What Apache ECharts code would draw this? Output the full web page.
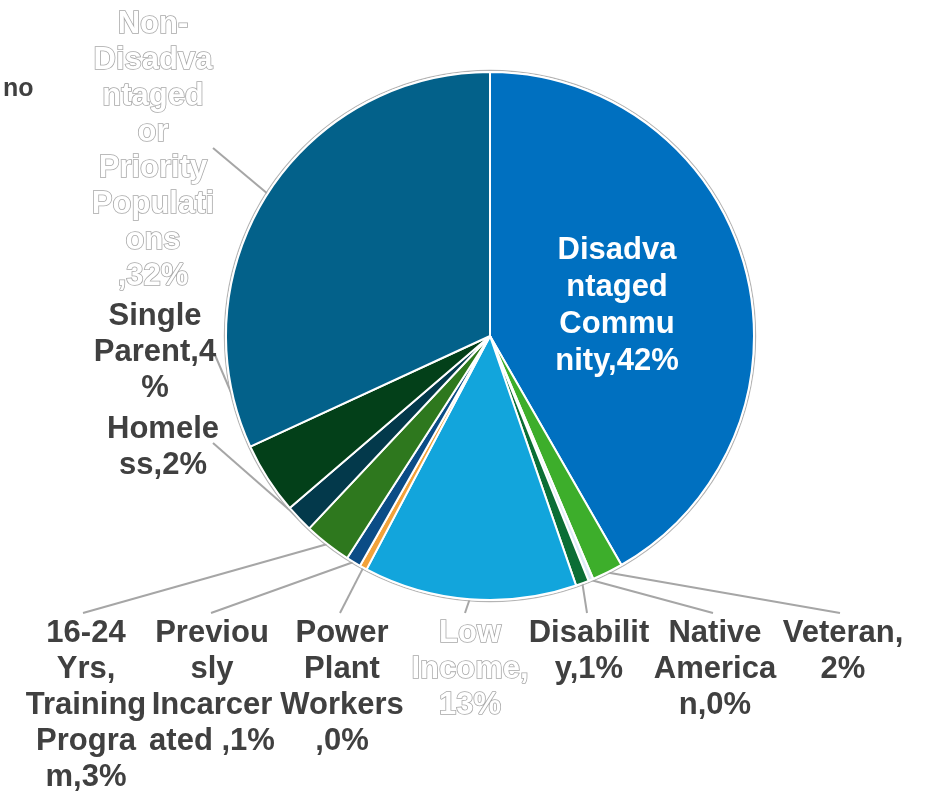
<!DOCTYPE html>
<html>
<head>
<meta charset="utf-8">
<script src="https://cdn.jsdelivr.net/npm/echarts@6/dist/echarts.min.js"></script>
<style>
  html, body { margin: 0; padding: 0; background: #ffffff; }
  #chart { width: 927px; height: 796px; }
</style>
</head>
<body>
<div id="chart"></div>
<script>
// Population groups, listed clockwise from 12 o'clock
const categories = [
  'Disadvantaged Community',
  'Veteran',
  'Native American',
  'Disability',
  'Low Income',
  'Power Plant Workers',
  'Previously Incarcerated ',
  '16-24 Yrs, Training Program',
  'Homeless',
  'Single Parent',
  'Non-Disadvantaged or Priority Populations '
];

// Share of participants (%)
const shares = [41.6, 1.9, 0.3, 0.8, 13.0, 0.45, 0.9, 2.9, 1.7, 4.4, 31.8];

const sliceColors = [
  '#0070C0', '#3DAE2B', '#DDEBF7', '#0B6E35', '#12A5DC', '#F2A23A',
  '#0B4C86', '#2E781E', '#03394B', '#034019', '#03618A'
];

// Where each label sits and where its leader line ends
const labelSpots = [
  { x: 617, y: 306, va: 'middle', end: null },
  { x: 843, y: 615, va: 'top', end: [840, 613] },
  { x: 715, y: 615, va: 'top', end: [713, 613] },
  { x: 589, y: 615, va: 'top', end: [587, 613] },
  { x: 470, y: 615, va: 'top', end: [465, 613] },
  { x: 342, y: 615, va: 'top', end: [340, 613] },
  { x: 212, y: 615, va: 'top', end: [211, 613] },
  { x: 86,  y: 615, va: 'top', end: [83, 613] },
  { x: 163, y: 447, va: 'middle', end: [213, 443] },
  { x: 155, y: 352, va: 'middle', end: [215, 355] },
  { x: 153, y: 150, va: 'middle', end: [213, 148] }
];

const FONT_FAMILY = '"Liberation Sans", Arial, sans-serif';
const FONT_SIZE = 31;
const WRAP_WIDTH = 126.6;

const measureCtx = document.createElement('canvas').getContext('2d');
measureCtx.font = 'bold ' + FONT_SIZE + 'px ' + FONT_FAMILY;
function textWidth(s) { return measureCtx.measureText(s).width; }

// Word wrap: break at spaces and after hyphens, split over-long words by character
function wrapLabel(text, maxW) {
  const parts = [];
  text.split(' ').forEach(function (word) {
    if (!word) return;
    word.split(/(?<=-)/).forEach(function (seg, si) {
      parts.push({ s: seg, sep: (si === 0 && parts.length) ? ' ' : '' });
    });
  });
  const lines = [];
  let line = '';
  parts.forEach(function (p) {
    const cand = line ? line + p.sep + p.s : p.s;
    if (textWidth(cand) <= maxW) { line = cand; return; }
    if (line) { lines.push(line); line = ''; }
    let s = p.s;
    while (textWidth(s) > maxW && s.length > 1) {
      let k = 1;
      while (k < s.length && textWidth(s.slice(0, k + 1)) <= maxW) k++;
      lines.push(s.slice(0, k));
      s = s.slice(k);
    }
    line = s;
  });
  if (line) lines.push(line);
  return lines.join('\n');
}

const darkLabel = { color: '#404040' };
const hollowLabel = { color: '#ffffff', textBorderColor: '#A8A8A8', textBorderWidth: 1.6 };

const pieData = categories.map(function (name, i) {
  const item = { name: name, value: shares[i], itemStyle: { color: sliceColors[i] } };
  if (i === 0) {
    item.label = { position: 'inside', color: '#ffffff', lineHeight: 37 };
    item.labelLine = { show: false };
  } else if (i === 4 || i === 10) {
    item.label = hollowLabel;
  } else {
    item.label = darkLabel;
  }
  return item;
});

const CENTER = [490, 336];
const RADIUS = 264;
const total = shares.reduce(function (a, b) { return a + b; }, 0);

function edgePoint(idx) {
  let before = 0;
  for (let k = 0; k < idx; k++) before += shares[k];
  const mid = (before + shares[idx] / 2) / total * Math.PI * 2;
  return [CENTER[0] + RADIUS * Math.sin(mid), CENTER[1] - RADIUS * Math.cos(mid)];
}

const chart = echarts.init(document.getElementById('chart'), null, { renderer: 'canvas' });

chart.setOption({
  animation: false,
  backgroundColor: '#ffffff',
  graphic: [
    {
      type: 'circle',
      z: 0,
      silent: true,
      shape: { cx: CENTER[0], cy: CENTER[1], r: RADIUS + 1.6 },
      style: { fill: 'none', stroke: '#B4B4B4', lineWidth: 1.2 }
    },
    {
      type: 'text',
      left: 3,
      top: 77,
      silent: true,
      style: {
        text: 'no',
        fill: '#404040',
        font: 'bold 25px ' + FONT_FAMILY
      }
    }
  ],
  series: [{
    type: 'pie',
    center: CENTER,
    radius: RADIUS,
    startAngle: 90,
    clockwise: true,
    avoidLabelOverlap: false,
    silent: true,
    data: pieData,
    itemStyle: { borderColor: '#ffffff', borderWidth: 2 },
    label: {
      show: true,
      position: 'outside',
      fontFamily: FONT_FAMILY,
      fontSize: FONT_SIZE,
      fontWeight: 'bold',
      lineHeight: 36,
      formatter: function (p) {
        return wrapLabel(p.name + ',' + Math.round(p.percent) + '%', WRAP_WIDTH);
      }
    },
    labelLine: {
      show: true,
      length: 10,
      length2: 10,
      lineStyle: { color: '#A6A6A6', width: 2 }
    },
    emphasis: { disabled: true },
    labelLayout: function (params) {
      const spot = labelSpots[params.dataIndex];
      const out = { x: spot.x, y: spot.y, align: 'center', verticalAlign: spot.va };
      if (spot.end) {
        const start = (params.labelLinePoints && params.labelLinePoints[0])
          ? params.labelLinePoints[0] : edgePoint(params.dataIndex);
        out.labelLinePoints = [start, spot.end];
      }
      return out;
    }
  }]
});
</script>
</body>
</html>
